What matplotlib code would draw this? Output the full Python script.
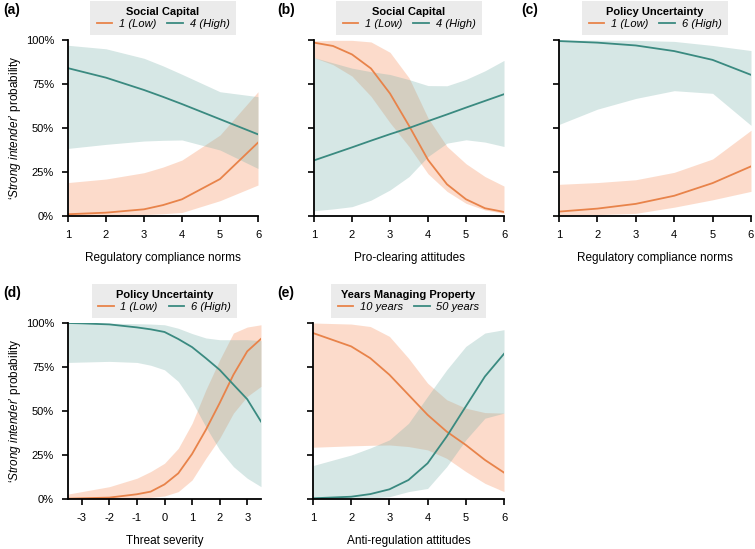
import matplotlib
matplotlib.use('Agg')
import matplotlib.pyplot as plt

plt.rcParams['font.family'] = ['Liberation Sans', 'DejaVu Sans']
plt.rcParams['mathtext.fontset'] = 'custom'
plt.rcParams['mathtext.it'] = 'Liberation Sans:italic'
plt.rcParams['mathtext.rm'] = 'Liberation Sans'
plt.rcParams['axes.unicode_minus'] = False

ORANGE = '#E8834A'
TEAL = '#3A8A80'
ORANGE_FILL = '#F79A6C'
TEAL_FILL = '#78B0A9'

# ---- panel (a): social capital x regulatory compliance norms
a_x = [1, 2, 3, 3.5, 4, 5, 6]
a_low = [1.0, 1.9, 3.8, 6.2, 9.5, 21.0, 41.7]
a_low_hi = [19.0, 21.0, 24.6, 27.8, 31.8, 46.0, 70.6]
a_low_lo = [0.0, 0.2, 0.8, 1.3, 2.0, 8.7, 17.6]
a_high = [84.0, 78.6, 71.6, 67.7, 63.6, 55.0, 46.4]
a_high_hi = [97.0, 95.0, 89.6, 85.3, 80.5, 70.6, 67.8]
a_high_lo = [38.4, 40.7, 42.6, 43.0, 43.2, 37.5, 27.0]

# ---- panel (b): social capital x pro-clearing attitudes
b_x = [1, 1.5, 2, 2.5, 3, 3.5, 4, 4.5, 5, 5.5, 6]
b_low = [98.5, 96.6, 91.8, 83.8, 69.6, 51.3, 31.9, 18.0, 9.5, 4.4, 2.3]
b_low_hi = [99.5, 99.8, 99.8, 98.9, 93.0, 78.5, 55.7, 39.5, 29.7, 22.4, 17.0]
b_low_lo = [90.0, 86.0, 79.5, 68.0, 53.0, 39.5, 24.0, 14.0, 7.2, 3.4, 1.5]
b_high = [31.6, 35.3, 39.0, 42.8, 46.5, 50.0, 53.9, 57.7, 61.6, 65.4, 69.2]
b_high_hi = [90.0, 87.0, 84.0, 82.0, 80.4, 77.5, 74.1, 74.0, 77.6, 82.5, 88.4]
b_high_lo = [3.0, 4.0, 5.3, 9.0, 14.8, 22.4, 33.8, 41.4, 43.3, 42.0, 39.5]

# ---- panel (c): policy uncertainty x regulatory compliance norms
c_x = [1, 2, 3, 4, 5, 6]
c_low = [2.5, 4.2, 6.9, 11.5, 18.7, 28.2]
c_low_hi = [18.0, 19.0, 20.6, 24.8, 32.4, 48.7]
c_low_lo = [0.4, 0.8, 1.5, 5.0, 9.2, 14.0]
c_high = [99.4, 98.5, 96.9, 93.7, 88.7, 80.2]
c_high_hi = [100.0, 99.9, 99.8, 99.2, 96.9, 94.0]
c_high_lo = [52.0, 60.7, 66.8, 71.2, 69.7, 51.5]

# ---- panel (d): policy uncertainty x threat severity
d_x = [-3.5, -3, -2, -1, -0.5, 0, 0.5, 1, 1.5, 2, 2.5, 3, 3.5]
d_low = [0.2, 0.4, 0.8, 2.7, 4.2, 8.3, 14.6, 25.6, 39.3, 54.5, 70.6, 83.9, 91.0]
d_low_hi = [2.8, 4.2, 7.0, 11.8, 15.6, 20.3, 28.8, 43.0, 62.0, 79.0, 94.3, 97.7, 99.0]
d_low_lo = [0.0, 0.0, 0.1, 0.4, 0.9, 1.7, 4.2, 10.8, 23.1, 34.5, 48.8, 58.3, 64.0]
d_high = [100.0, 99.8, 99.2, 97.5, 96.4, 94.9, 90.9, 86.3, 80.0, 73.4, 65.0, 56.7, 44.0]
d_high_hi = [100.0, 100.0, 99.9, 99.6, 99.4, 99.0, 97.0, 94.0, 91.5, 90.5, 90.5, 90.5, 90.0]
d_high_lo = [77.6, 77.8, 78.2, 77.6, 76.0, 73.4, 66.8, 55.4, 41.0, 27.9, 18.4, 11.8, 7.0]

# ---- panel (e): years managing property x anti-regulation attitudes
e_x = [1, 2, 2.5, 3, 3.5, 4, 4.5, 5, 5.5, 6]
e_low = [94.3, 86.7, 80.0, 70.6, 59.2, 47.8, 38.3, 30.7, 22.2, 15.0]
e_low_hi = [100.0, 99.4, 98.0, 92.4, 80.0, 65.8, 56.4, 51.6, 49.1, 48.8]
e_low_lo = [29.4, 30.2, 30.5, 30.7, 29.8, 27.9, 23.1, 15.6, 8.9, 4.2]
e_high = [0.4, 1.3, 2.8, 5.5, 10.8, 20.3, 35.5, 52.6, 69.6, 82.5]
e_high_hi = [19.0, 25.0, 29.0, 33.6, 43.0, 58.3, 73.4, 86.7, 94.3, 96.2]
e_high_lo = [0.0, 0.2, 0.6, 1.3, 4.2, 6.0, 18.4, 33.6, 45.9, 48.8]

panels = [
    ('(a)', 'Social Capital', ['1 (Low)', '4 (High)'], 'Regulatory compliance norms',
     a_x, a_low, a_low_lo, a_low_hi, a_high, a_high_lo, a_high_hi),
    ('(b)', 'Social Capital', ['1 (Low)', '4 (High)'], 'Pro-clearing attitudes',
     b_x, b_low, b_low_lo, b_low_hi, b_high, b_high_lo, b_high_hi),
    ('(c)', 'Policy Uncertainty', ['1 (Low)', '6 (High)'], 'Regulatory compliance norms',
     c_x, c_low, c_low_lo, c_low_hi, c_high, c_high_lo, c_high_hi),
    ('(d)', 'Policy Uncertainty', ['1 (Low)', '6 (High)'], 'Threat severity',
     d_x, d_low, d_low_lo, d_low_hi, d_high, d_high_lo, d_high_hi),
    ('(e)', 'Years Managing Property', ['10 years', '50 years'], 'Anti-regulation attitudes',
     e_x, e_low, e_low_lo, e_low_hi, e_high, e_high_lo, e_high_hi),
]

fig = plt.figure(figsize=(7.55, 5.49), dpi=100)
W, H = 755, 549
# axes boxes in pixels: left, top, width
boxes = [(68, 40, 190), (314, 40, 190), (559, 40, 192), (68, 323, 193), (313, 323, 191)]
tag_x = [3, 277, 521, 3, 277]
ylab = "\u2018$\\it{Strong\\ intender}$\u2019 probability"

for i, (tag, title, labels, xlabel, x, lo, lo_l, lo_h, hi, hi_l, hi_h) in enumerate(panels):
    left, top, width = boxes[i]
    ax = fig.add_axes([left / W, 1 - (top + 176) / H, width / W, 176 / H])
    ax.fill_between(x, lo_l, lo_h, color=ORANGE_FILL, alpha=0.35, lw=0)
    ax.fill_between(x, hi_l, hi_h, color=TEAL_FILL, alpha=0.3, lw=0)
    ax.plot(x, lo, color=ORANGE, lw=1.3, label=labels[0])
    ax.plot(x, hi, color=TEAL, lw=1.3, label=labels[1])
    ax.set_ylim(0, 100)
    ax.set_xlim(x[0], x[-1])
    ax.set_yticks([0, 25, 50, 75, 100])
    if i in (0, 3):
        ax.set_yticklabels(['0%', '25%', '50%', '75%', '100%'])
        ax.set_ylabel(ylab, fontsize=8.5, labelpad=2)
    else:
        ax.set_yticklabels([])
    if i == 3:
        ax.set_xticks([-3, -2, -1, 0, 1, 2, 3])
    else:
        ax.set_xticks([1, 2, 3, 4, 5, 6])
    ax.set_xlabel(xlabel, fontsize=8.5, labelpad=9)
    for s in ('top', 'right'):
        ax.spines[s].set_visible(False)
    for s in ('left', 'bottom'):
        ax.spines[s].set_linewidth(1.3)
    ax.tick_params(direction='out', length=4, width=1.2, labelsize=8, pad=6)
    leg = ax.legend(loc='lower center', bbox_to_anchor=(0.5, 1.028), ncol=2,
                    title=title, title_fontproperties={'weight': 'bold', 'size': 8},
                    prop={'style': 'italic', 'size': 8}, frameon=True,
                    facecolor='#ebebeb', edgecolor='none', fancybox=False, framealpha=1,
                    handlelength=1.4, columnspacing=1.0, borderpad=0.55,
                    borderaxespad=0, handletextpad=0.6, labelspacing=0.2)
    leg.get_frame().set_linewidth(0)
    fig.text(tag_x[i] / W, 1 - (top - 30) / H, tag,
             fontsize=10, fontweight='bold', va='center', ha='left')

fig.savefig('out.png', dpi=100)
